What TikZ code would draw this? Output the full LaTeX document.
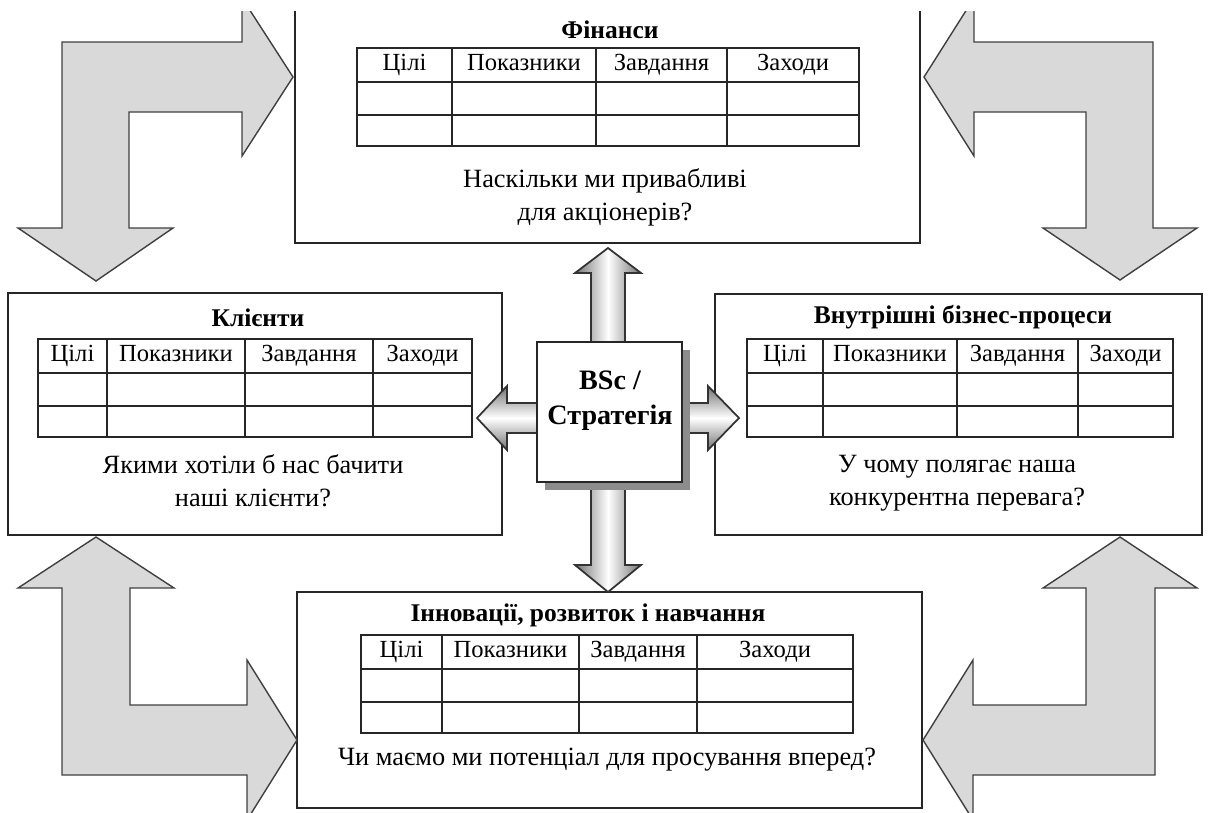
\documentclass[tikz,border=0pt]{standalone}
\usepackage{fontspec}
\setmainfont{Liberation Serif}
\usetikzlibrary{calc,fit}

\tikzset{
  box/.style={draw=black!85, line width=1.1pt, inner sep=0pt},
  tab/.style={draw=black!85, line width=1.2pt},
  turnarrow/.style={draw=black!75, fill=black!15, line width=0.8pt, line join=miter},
  bar/.style={draw=black!80, line width=1pt, line join=miter},
  txt/.style={font=\fontsize{15}{18.7}\selectfont, align=center, inner sep=0pt},
  head/.style={font=\fontsize{14}{17}\selectfont, inner sep=0pt, text height=1.45ex, text depth=0.1ex},
  ttl/.style={txt, font=\fontsize{14.5}{18.7}\selectfont\bfseries}
}

\newcommand\bsctable[7]{% name, left, top, three column lines, right
  \draw[tab] (#2,#3) rectangle (#7,#3+98);
  \draw[tab] (#2,#3+34) -- (#7,#3+34) (#2,#3+67) -- (#7,#3+67);
  \foreach \cx in {#4,#5,#6} \draw[tab] (\cx,#3) -- (\cx,#3+98);
  \node[head] (#1-goal) at ({(#2+#4)/2},#3+17) {Цілі};
  \node[head] (#1-kpi) at ({(#4+#5)/2},#3+17) {Показники};
  \node[head] (#1-task) at ({(#5+#6)/2},#3+17) {Завдання};
  \node[head] (#1-act) at ({(#6+#7)/2},#3+17) {Заходи};
}

\begin{document}
\begin{tikzpicture}[x=0.02cm, y=-0.02cm]
  \useasboundingbox (0,0) rectangle (1212,812);
  \begin{scope}
  \clip (0,11) rectangle (1212,812);

  \node[box, fit={(295,-5) (920,243)}] (fin) {};
  \node[box, fit={(8,293) (502,535)}] (cli) {};
  \node[box, fit={(715,294) (1202,535)}] (int) {};
  \node[box, fit={(297,592) (922,808)}] (inn) {};

  \node[ttl] (fin-t) at (610,30) {Фінанси};
  \bsctable{fin}{357}{48}{452}{596}{727}{859}
  \node[txt] (fin-q) at (605,197) {Наскільки ми привабливі\\для акціонерів?};

  \node[ttl] (cli-t) at (258,318) {Клієнти};
  \bsctable{cli}{38}{339}{107}{245}{373}{472}
  \node[txt] (cli-q) at (253,481) {Якими хотіли б нас бачити\\наші клієнти?};

  \node[ttl] (int-t) at (963,317) {Внутрішні бізнес-процеси};
  \bsctable{int}{747}{339}{823}{957}{1078}{1173}
  \node[txt] (int-q) at (957,483) {У чому полягає наша\\конкурентна перевага?};

  \node[ttl] (inn-t) at (588,615) {Інновації, розвиток і навчання};
  \bsctable{inn}{361}{635}{442}{579}{697}{853}
  \node[txt] (inn-q) at (607,760) {Чи маємо ми потенціал для просування вперед?};

  \draw[turnarrow] (62,42) -- (242,42) -- (242,-2) -- (293,77) -- (242,156) -- (242,112)
    -- (129,112) -- (129,228) -- (173,228) -- (96,281) -- (18,228) -- (62,228) -- cycle;
  \draw[turnarrow] (1153,42) -- (974,42) -- (974,-2) -- (924,77) -- (974,156) -- (974,112)
    -- (1086,112) -- (1086,228) -- (1043,228) -- (1120,280) -- (1197,228) -- (1153,228) -- cycle;
  \draw[turnarrow] (62,775) -- (62,588) -- (18,588) -- (96,537) -- (174,588) -- (130,588)
    -- (130,705) -- (247,705) -- (247,660) -- (297,740) -- (247,820) -- (247,775) -- cycle;
  \draw[turnarrow] (1155,775) -- (1155,588) -- (1197,588) -- (1120,537) -- (1043,588) -- (1086,588)
    -- (1086,705) -- (973,705) -- (973,660) -- (923,740) -- (973,820) -- (973,775) -- cycle;

  \coordinate (hub) at (608,418);
  \begin{scope}[shift={(hub)}]
    \draw[bar, left color=black!55, right color=black!55, middle color=white]
      (0,-170) -- (33,-145) -- (17,-145) -- (17,147) -- (33,147) -- (0,174)
      -- (-33,147) -- (-17,147) -- (-17,-145) -- (-33,-145) -- cycle;
    \draw[bar, top color=black!55, bottom color=black!55, middle color=white]
      (-131,0) -- (-101,-32) -- (-101,-15) -- (100,-15) -- (100,-32) -- (131,0)
      -- (100,32) -- (100,15) -- (-101,15) -- (-101,32) -- cycle;
  \end{scope}

  \fill[black!45] (545,350) rectangle (690,490);
  \node[box, fill=white, fit={(537,342) (682,482)}] (bsc) {};
  \node[ttl, font=\fontsize{16}{20}\selectfont\bfseries] (bsc-t) at (610,401) {BSc /\\Стратегія};
  \end{scope}
\end{tikzpicture}
\end{document}
